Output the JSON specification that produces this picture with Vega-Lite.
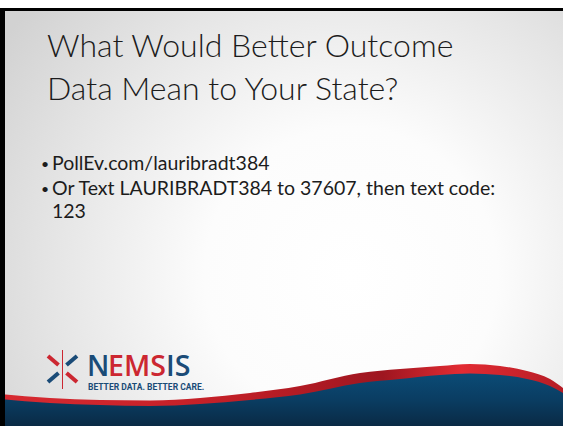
{
  "$schema": "https://vega.github.io/schema/vega-lite/v6.json",
  "width": 563,
  "height": 426,
  "padding": 0,
  "autosize": {"type": "none"},
  "background": "#ffffff",
  "config": {"view": {"stroke": null}},
  "datasets": {
    "bg": [{"x": 5, "x2": 563, "y": 11, "y2": 426}],
    "frame": [{"x": 0, "x2": 563, "y": 8, "y2": 11}, {"x": 0, "x2": 5, "y": 8, "y2": 426}],
    "wave": [
      {"x": 0, "r": 394, "b": 399},
      {"x": 50, "r": 398, "b": 403},
      {"x": 100, "r": 400, "b": 405},
      {"x": 150, "r": 400.5, "b": 406},
      {"x": 200, "r": 398, "b": 404},
      {"x": 250, "r": 393, "b": 400},
      {"x": 300, "r": 386, "b": 394.5},
      {"x": 360, "r": 373, "b": 383},
      {"x": 400, "r": 369, "b": 379},
      {"x": 440, "r": 366, "b": 375},
      {"x": 470, "r": 364, "b": 373.5},
      {"x": 500, "r": 366, "b": 375},
      {"x": 527, "r": 371, "b": 379},
      {"x": 550, "r": 379, "b": 386},
      {"x": 563, "r": 388, "b": 393}
    ],
    "title": [
      {"t": "What Would Better Outcome", "x": 47, "y": 57},
      {"t": "Data Mean to Your State?", "x": 47, "y": 100}
    ],
    "bullets": [
      {"t": "•", "x": 41, "y": 169},
      {"t": "•", "x": 41, "y": 194}
    ],
    "body": [
      {"t": "PollEv.com/lauribradt384", "x": 52, "y": 170},
      {"t": "Or Text LAURIBRADT384 to 37607, then text code:", "x": 52, "y": 195},
      {"t": "123", "x": 52, "y": 218}
    ],
    "star": [
      {"x": 62.5, "y": 350, "x2": 62.5, "y2": 389, "c": "r", "w": 5},
      {"x": 48, "y": 356, "x2": 58.5, "y2": 365, "c": "r", "w": 8},
      {"x": 48, "y": 382, "x2": 58.5, "y2": 373, "c": "b", "w": 8},
      {"x": 77, "y": 356, "x2": 66.5, "y2": 365, "c": "b", "w": 8},
      {"x": 77, "y": 382, "x2": 66.5, "y2": 373, "c": "r", "w": 8}
    ],
    "logo": [
      {"t": "N", "x": 87, "y": 376, "c": "b"},
      {"t": "EMS", "x": 108, "y": 376, "c": "r"},
      {"t": "IS", "x": 166, "y": 376, "c": "b"}
    ],
    "tag": [{"t": "BETTER DATA. BETTER CARE.", "x": 88, "y": 390}]
  },
  "layer": [
    {
      "data": {"name": "bg"},
      "mark": {
        "type": "rect",
        "fill": {
          "gradient": "radial",
          "x1": 0.62, "y1": 0.6, "r1": 0,
          "x2": 0.62, "y2": 0.6, "r2": 0.75,
          "stops": [
            {"offset": 0, "color": "#ffffff"},
            {"offset": 0.35, "color": "#fcfcfc"},
            {"offset": 0.7, "color": "#e6e6e6"},
            {"offset": 1, "color": "#d2d2d2"}
          ]
        }
      },
      "encoding": {
        "x": {"field": "x", "type": "quantitative", "scale": {"domain": [0, 563], "nice": false, "zero": false}, "axis": null},
        "x2": {"field": "x2"},
        "y": {"field": "y", "type": "quantitative", "scale": {"domain": [0, 426], "nice": false, "zero": false, "reverse": true}, "axis": null},
        "y2": {"field": "y2"}
      }
    },
    {
      "data": {"name": "wave"},
      "mark": {
        "type": "area",
        "interpolate": "monotone",
        "fill": {
          "gradient": "linear",
          "x1": 0, "y1": 0, "x2": 1, "y2": 0,
          "stops": [
            {"offset": 0, "color": "#d82a31"},
            {"offset": 0.4, "color": "#c21f27"},
            {"offset": 0.68, "color": "#9e1620"},
            {"offset": 0.82, "color": "#e22b33"},
            {"offset": 1, "color": "#b51c25"}
          ]
        }
      },
      "encoding": {
        "x": {"field": "x", "type": "quantitative", "scale": {"domain": [0, 563], "nice": false, "zero": false}, "axis": null},
        "y": {"field": "r", "type": "quantitative", "scale": {"domain": [0, 426], "nice": false, "zero": false, "reverse": true}, "axis": null},
        "y2": {"datum": 426}
      }
    },
    {
      "data": {"name": "wave"},
      "mark": {
        "type": "area",
        "interpolate": "monotone",
        "fill": {
          "gradient": "linear",
          "x1": 0, "y1": 0, "x2": 0, "y2": 1,
          "stops": [
            {"offset": 0, "color": "#0b4b76"},
            {"offset": 0.5, "color": "#0a3d62"},
            {"offset": 1, "color": "#0a2a45"}
          ]
        }
      },
      "encoding": {
        "x": {"field": "x", "type": "quantitative", "scale": {"domain": [0, 563], "nice": false, "zero": false}, "axis": null},
        "y": {"field": "b", "type": "quantitative", "scale": {"domain": [0, 426], "nice": false, "zero": false, "reverse": true}, "axis": null},
        "y2": {"datum": 426}
      }
    },
    {
      "data": {"name": "frame"},
      "mark": {"type": "rect", "color": "#000000"},
      "encoding": {
        "x": {"field": "x", "type": "quantitative", "scale": {"domain": [0, 563], "nice": false, "zero": false}, "axis": null},
        "x2": {"field": "x2"},
        "y": {"field": "y", "type": "quantitative", "scale": {"domain": [0, 426], "nice": false, "zero": false, "reverse": true}, "axis": null},
        "y2": {"field": "y2"}
      }
    },
    {
      "data": {"name": "title"},
      "mark": {"type": "text", "align": "left", "baseline": "alphabetic", "font": "Lato", "fontWeight": 300, "fontSize": 32, "color": "#1c1c1c"},
      "encoding": {
        "x": {"field": "x", "type": "quantitative", "scale": {"domain": [0, 563], "nice": false, "zero": false}, "axis": null},
        "y": {"field": "y", "type": "quantitative", "scale": {"domain": [0, 426], "nice": false, "zero": false, "reverse": true}, "axis": null},
        "text": {"field": "t"}
      }
    },
    {
      "data": {"name": "bullets"},
      "mark": {"type": "text", "align": "left", "baseline": "alphabetic", "font": "Lato", "fontSize": 14, "color": "#1c1c1c"},
      "encoding": {
        "x": {"field": "x", "type": "quantitative", "scale": {"domain": [0, 563], "nice": false, "zero": false}, "axis": null},
        "y": {"field": "y", "type": "quantitative", "scale": {"domain": [0, 426], "nice": false, "zero": false, "reverse": true}, "axis": null},
        "text": {"field": "t"}
      }
    },
    {
      "data": {"name": "body"},
      "mark": {"type": "text", "align": "left", "baseline": "alphabetic", "font": "Lato", "fontSize": 19.5, "color": "#1c1c1c"},
      "encoding": {
        "x": {"field": "x", "type": "quantitative", "scale": {"domain": [0, 563], "nice": false, "zero": false}, "axis": null},
        "y": {"field": "y", "type": "quantitative", "scale": {"domain": [0, 426], "nice": false, "zero": false, "reverse": true}, "axis": null},
        "text": {"field": "t"}
      }
    },
    {
      "data": {"name": "star"},
      "mark": {"type": "rule", "strokeCap": "butt"},
      "encoding": {
        "x": {"field": "x", "type": "quantitative", "scale": {"domain": [0, 563], "nice": false, "zero": false}, "axis": null},
        "x2": {"field": "x2"},
        "y": {"field": "y", "type": "quantitative", "scale": {"domain": [0, 426], "nice": false, "zero": false, "reverse": true}, "axis": null},
        "y2": {"field": "y2"},
        "color": {"field": "c", "type": "nominal", "scale": {"domain": ["r", "b"], "range": ["#cc2731", "#1a4b77"]}, "legend": null},
        "strokeWidth": {"field": "w", "type": "quantitative", "scale": {"type": "identity"}, "legend": null}
      }
    },
    {
      "data": {"name": "logo"},
      "mark": {"type": "text", "align": "left", "baseline": "alphabetic", "font": "Open Sans", "fontWeight": 600, "fontSize": 28.5},
      "encoding": {
        "x": {"field": "x", "type": "quantitative", "scale": {"domain": [0, 563], "nice": false, "zero": false}, "axis": null},
        "y": {"field": "y", "type": "quantitative", "scale": {"domain": [0, 426], "nice": false, "zero": false, "reverse": true}, "axis": null},
        "text": {"field": "t"},
        "color": {"field": "c", "type": "nominal", "scale": {"domain": ["r", "b"], "range": ["#cc2731", "#1a4b77"]}, "legend": null}
      }
    },
    {
      "data": {"name": "tag"},
      "mark": {"type": "text", "align": "left", "baseline": "alphabetic", "font": "Liberation Sans Narrow, Roboto", "fontWeight": "bold", "fontSize": 8.5, "color": "#1a4b77"},
      "encoding": {
        "x": {"field": "x", "type": "quantitative", "scale": {"domain": [0, 563], "nice": false, "zero": false}, "axis": null},
        "y": {"field": "y", "type": "quantitative", "scale": {"domain": [0, 426], "nice": false, "zero": false, "reverse": true}, "axis": null},
        "text": {"field": "t"}
      }
    }
  ]
}
